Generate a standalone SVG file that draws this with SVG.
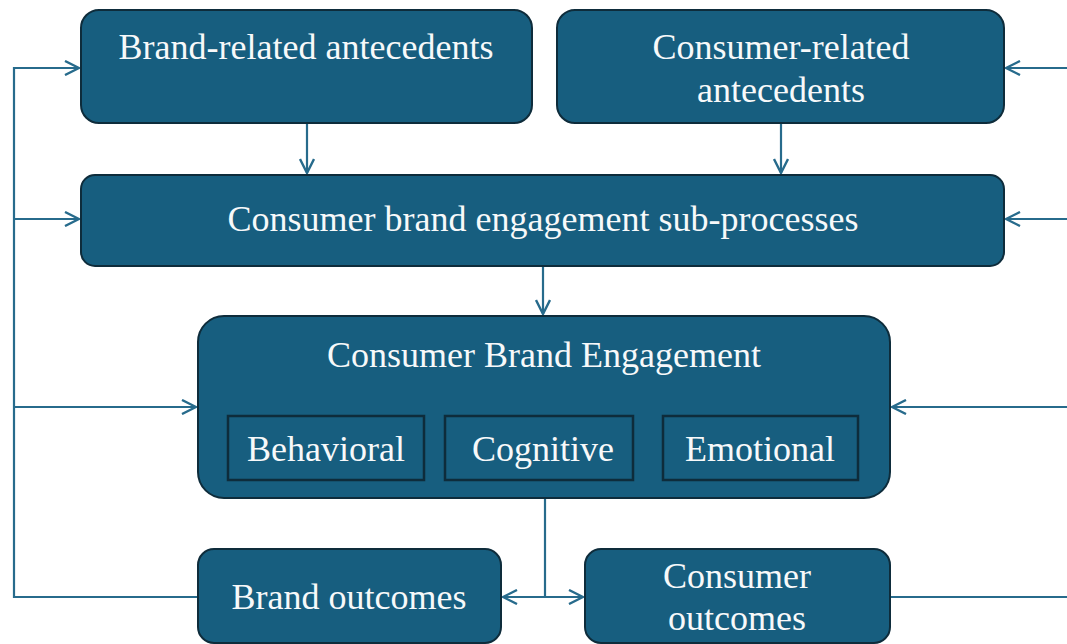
<svg xmlns="http://www.w3.org/2000/svg" width="1067" height="644" viewBox="0 0 1067 644">
  <defs>
    <style>
      .box { fill: #175e7f; stroke: #0e2c3b; stroke-width: 2; }
      .inner { fill: none; stroke: #0e2c3b; stroke-width: 2.5; }
      .lbl { font-family: 'Liberation Serif', 'Times New Roman', serif; font-size: 36px; fill: #f7f9fa; text-anchor: middle; }
      .wire { fill: none; stroke: #276b8c; stroke-width: 2.2; }
    </style>
    <marker id="arr" viewBox="0 0 16 16" refX="15" refY="8" markerWidth="16" markerHeight="16" markerUnits="userSpaceOnUse" orient="auto">
      <path d="M1,1 L15,8 L1,15" fill="none" stroke="#276b8c" stroke-width="2.4"/>
    </marker>
  </defs>
  <rect width="1067" height="644" fill="#ffffff"/>

  <!-- connectors -->
  <g id="connectors">
    <!-- left feedback bus -->
    <path class="wire" d="M198,597 H14 V68 H79" marker-end="url(#arr)"/>
    <path class="wire" d="M14,219 H79" marker-end="url(#arr)"/>
    <path class="wire" d="M14,407 H196" marker-end="url(#arr)"/>
    <!-- right feedback bus -->
    <path class="wire" d="M890,597 H1067"/>
    <path class="wire" d="M1067,68 H1006" marker-end="url(#arr)"/>
    <path class="wire" d="M1067,219 H1006" marker-end="url(#arr)"/>
    <path class="wire" d="M1067,407 H892" marker-end="url(#arr)"/>
    <!-- downward flow -->
    <path class="wire" d="M307,123 V173" marker-end="url(#arr)"/>
    <path class="wire" d="M781,123 V173" marker-end="url(#arr)"/>
    <path class="wire" d="M543,266 V314" marker-end="url(#arr)"/>
    <!-- split to outcomes -->
    <path class="wire" d="M545,498 V597"/>
    <path class="wire" d="M545,597 H503" marker-end="url(#arr)"/>
    <path class="wire" d="M545,597 H583" marker-end="url(#arr)"/>
  </g>

  <g id="brand-antecedents">
    <rect class="box" x="81" y="10" width="451" height="113" rx="18"/>
    <text class="lbl" x="306" y="59">Brand-related antecedents</text>
  </g>

  <g id="consumer-antecedents">
    <rect class="box" x="557" y="10" width="447" height="113" rx="18"/>
    <text class="lbl" x="781" y="59">Consumer-related</text>
    <text class="lbl" x="781" y="102">antecedents</text>
  </g>

  <g id="sub-processes">
    <rect class="box" x="81" y="175" width="923" height="91" rx="14"/>
    <text class="lbl" x="543" y="231">Consumer brand engagement sub-processes</text>
  </g>

  <g id="engagement">
    <rect class="box" x="198" y="316" width="692" height="182" rx="26"/>
    <text class="lbl" x="544" y="367">Consumer Brand Engagement</text>
    <g id="behavioral">
      <rect class="inner" x="228" y="416" width="196" height="64"/>
      <text class="lbl" x="326" y="461">Behavioral</text>
    </g>
    <g id="cognitive">
      <rect class="inner" x="445" y="416" width="188" height="64"/>
      <text class="lbl" x="543" y="461">Cognitive</text>
    </g>
    <g id="emotional">
      <rect class="inner" x="663" y="416" width="195" height="64"/>
      <text class="lbl" x="760" y="461">Emotional</text>
    </g>
  </g>

  <g id="brand-outcomes">
    <rect class="box" x="198" y="549" width="303" height="94" rx="16"/>
    <text class="lbl" x="349" y="609">Brand outcomes</text>
  </g>

  <g id="consumer-outcomes">
    <rect class="box" x="585" y="549" width="305" height="94" rx="16"/>
    <text class="lbl" x="737" y="588">Consumer</text>
    <text class="lbl" x="737" y="630">outcomes</text>
  </g>
</svg>
